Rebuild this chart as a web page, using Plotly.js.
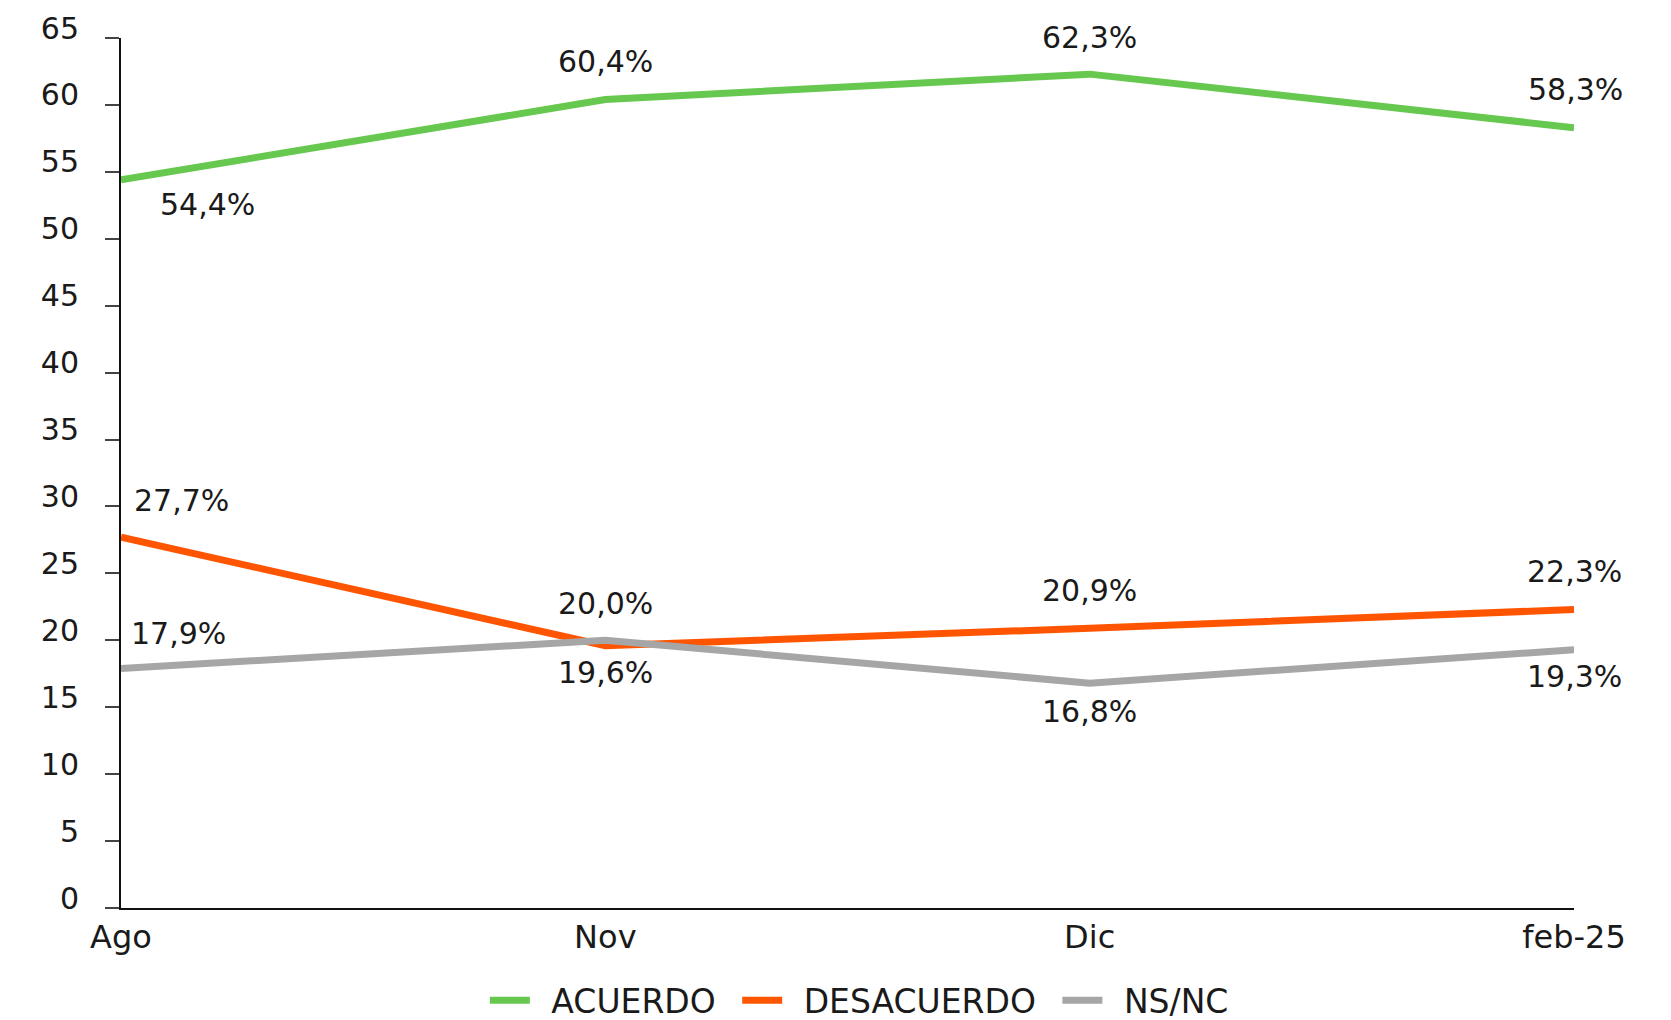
<!DOCTYPE html>
<html>
<head>
<meta charset="utf-8">
<script src="https://cdn.plot.ly/plotly-3.0.1.min.js"></script>
<style>
  html, body { margin: 0; padding: 0; background: #ffffff; }
  #chart { width: 1671px; height: 1020px; }
</style>
</head>
<body>
<div id="chart"></div>
<script>
// ---- Data ----
const categories = ["Ago", "Nov", "Dic", "feb-25"];
const acuerdo    = [54.4, 60.4, 62.3, 58.3];
const desacuerdo = [27.7, 19.6, 20.9, 22.3];
const nsnc       = [17.9, 20.0, 16.8, 19.3];
const seriesNames = ["ACUERDO", "DESACUERDO", "NS/NC"];
const yTicks = [0, 5, 10, 15, 20, 25, 30, 35, 40, 45, 50, 55, 60, 65];

// ---- Styles ----
const colors = ["#66C84F", "#FF5500", "#A6A6A6"];
const FONT = "DejaVu Sans, Open Sans, sans-serif";
// label offsets (pixels) per series per point
const labelShifts = [
  [[86, -25], [0, 38], [0, 37], [1, 38]],
  [[60, 37], [0, -27], [0, 38], [0, 38]],
  [[57, 35], [0, 37], [0, -28], [0, -27]]
];

const allSeries = [acuerdo, desacuerdo, nsnc];
const fmt = v => v.toFixed(1).replace(".", ",") + "%";

const traces = allSeries.map((vals, i) => ({
  type: "scatter",
  mode: "lines",
  x: categories,
  y: vals,
  name: "\u2002" + seriesNames[i] + "\u2002",
  line: { color: colors[i], width: 7 },
  hoverinfo: "skip"
}));

const annotations = [];
allSeries.forEach((vals, i) => {
  vals.forEach((v, j) => {
    annotations.push({
      x: categories[j], y: v, xref: "x", yref: "y",
      text: fmt(v), showarrow: false,
      xshift: labelShifts[i][j][0], yshift: labelShifts[i][j][1],
      xanchor: "center", yanchor: "middle",
      font: { family: FONT, size: 30, color: "#1a1a1a" }
    });
  });
});

const layout = {
  width: 1671, height: 1020,
  paper_bgcolor: "#ffffff", plot_bgcolor: "#ffffff",
  margin: { l: 121, r: 97, t: 38, b: 112, autoexpand: false },
  showlegend: true,
  legend: {
    orientation: "h", x: 0.514, xanchor: "center", y: -0.106, yanchor: "middle",
    font: { family: FONT, size: 33, color: "#1a1a1a" },
    itemwidth: 40, traceorder: "normal"
  },
  xaxis: {
    type: "category", range: [0, 3],
    showline: true, linecolor: "#111", linewidth: 2,
    showgrid: false, zeroline: false, ticks: "",
    tickfont: { family: FONT, size: 32, color: "#1a1a1a" },
    ticklabelstandoff: 0
  },
  yaxis: {
    range: [0, 65], tickvals: yTicks,
    showline: true, linecolor: "#111", linewidth: 2,
    showgrid: false, zeroline: false,
    ticks: "outside", ticklen: 14, tickwidth: 2, tickcolor: "#444",
    tickfont: { family: FONT, size: 30, color: "#1a1a1a" },
    ticklabelstandoff: 20,
    ticklabelshift: -10
  },
  annotations: annotations
};

Plotly.newPlot("chart", traces, layout, { staticPlot: true, displayModeBar: false });
</script>
</body>
</html>
